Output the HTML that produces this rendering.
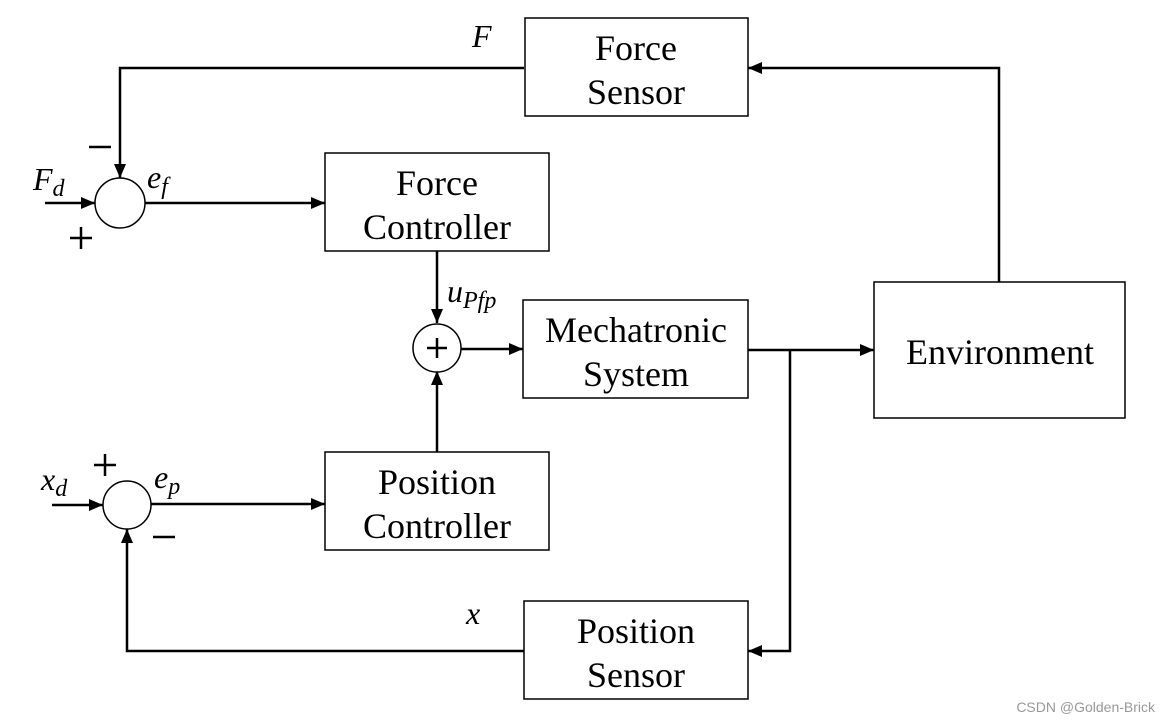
<!DOCTYPE html>
<html><head><style>body{margin:0;background:#fff}svg{display:block}</style></head><body>
<svg width="1170" height="720" viewBox="0 0 1170 720" xmlns="http://www.w3.org/2000/svg">
<defs><marker id="a" markerWidth="14" markerHeight="12" refX="14" refY="6" orient="auto" markerUnits="userSpaceOnUse"><path d="M0,0 L14,6 L0,12 z" fill="#000"/></marker></defs>
<g fill="none" stroke="#000" stroke-width="2.5">
<polyline points="524,68 120,68 120,178" marker-end="url(#a)"/>
<line x1="45" y1="203" x2="95" y2="203" marker-end="url(#a)"/>
<line x1="145" y1="203" x2="325" y2="203" marker-end="url(#a)"/>
<line x1="437" y1="251" x2="437" y2="323" marker-end="url(#a)"/>
<line x1="461" y1="349" x2="523" y2="349" marker-end="url(#a)"/>
<line x1="748" y1="350" x2="874" y2="350" marker-end="url(#a)"/>
<polyline points="999,282 999,68 748,68" marker-end="url(#a)"/>
<polyline points="790,350 790,651 748,651" marker-end="url(#a)"/>
<polyline points="524,651 127,651 127,529" marker-end="url(#a)"/>
<line x1="52" y1="505" x2="103" y2="505" marker-end="url(#a)"/>
<line x1="151" y1="504" x2="325" y2="504" marker-end="url(#a)"/>
<line x1="437" y1="452" x2="437" y2="371" marker-end="url(#a)"/>
</g>
<g fill="#fff" stroke="#000" stroke-width="1.5">
<rect x="525" y="18" width="223" height="98"/>
<rect x="325" y="153" width="224" height="98"/>
<rect x="523" y="300" width="225" height="98"/>
<rect x="874" y="282" width="251" height="136"/>
<rect x="325" y="452" width="224" height="98"/>
<rect x="524" y="601" width="224" height="98"/>
<circle cx="120" cy="203" r="25"/>
<circle cx="437" cy="348" r="24"/>
<circle cx="127" cy="505" r="24"/>
</g>
<g font-family="Liberation Serif, serif" font-size="36" text-anchor="middle" fill="#000">
<text x="636" y="60">Force</text><text x="636" y="104">Sensor</text>
<text x="437" y="195">Force</text><text x="437" y="239">Controller</text>
<text x="636" y="342">Mechatronic</text><text x="636" y="386">System</text>
<text x="1000" y="364">Environment</text>
<text x="437" y="494">Position</text><text x="437" y="538">Controller</text>
<text x="636" y="643">Position</text><text x="636" y="687">Sensor</text>
</g>
<g stroke="#000" stroke-width="2.5">
<line x1="427" y1="348" x2="447" y2="348"/><line x1="437" y1="338" x2="437" y2="358"/>
</g>
<g font-family="Liberation Serif, serif" font-style="italic" fill="#000">
<text x="472" y="47" font-size="32">F</text>
<text x="33" y="190" font-size="32">F<tspan font-size="24" dy="6">d</tspan></text>
<text x="147" y="188" font-size="32">e<tspan font-size="24" dy="6">f</tspan></text>
<text x="447" y="302" font-size="32">u<tspan font-size="24" dy="6">Pfp</tspan></text>
<text x="41" y="490" font-size="32">x<tspan font-size="24" dy="6">d</tspan></text>
<text x="154" y="488" font-size="32">e<tspan font-size="24" dy="6">p</tspan></text>
<text x="466" y="624" font-size="32">x</text>
</g>
<g stroke="#000" stroke-width="2.5">
<line x1="89" y1="147" x2="111" y2="147"/>
<line x1="70" y1="238" x2="92" y2="238"/><line x1="81" y1="227" x2="81" y2="249"/>
<line x1="94" y1="465" x2="116" y2="465"/><line x1="105" y1="454" x2="105" y2="476"/>
<line x1="153" y1="537" x2="175" y2="537"/>
</g>
<text x="1155" y="712" font-family="Liberation Sans, sans-serif" font-size="14" fill="#999" text-anchor="end">CSDN @Golden-Brick</text>
</svg>
</body></html>
